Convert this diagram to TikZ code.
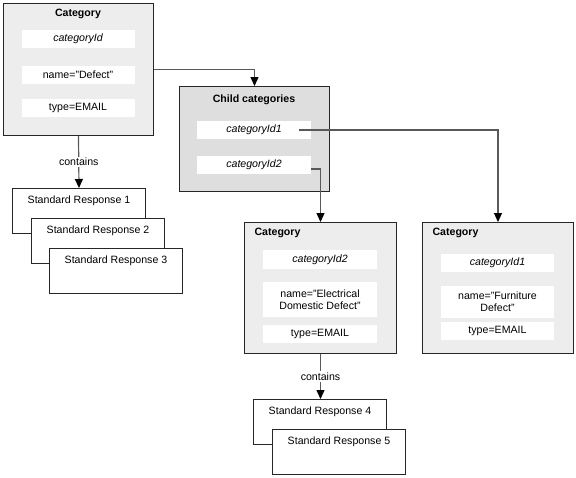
\documentclass[tikz,border=0pt]{standalone}
\usepackage{fontspec}
\setmainfont{Liberation Sans}
\usetikzlibrary{arrows.meta, positioning, calc}

\newcommand{\dfont}{\fontsize{10.6}{12.2}\selectfont}

\begin{document}
\begin{tikzpicture}[
			x=1pt, y=-1pt,
			every node/.style={font=\dfont},
			catbox/.style={draw=black!85, line width=1pt, fill=black!7, anchor=north west, inner sep=0pt},
			childbox/.style={catbox, fill=black!13},
			title/.style={font=\dfont\bfseries},
			field/.style={fill=white, minimum width=113pt, minimum height=18pt, inner sep=1pt, align=center},
			idfield/.style={field, font=\dfont\itshape},
			resp/.style={draw=black!85, line width=1pt, fill=white, anchor=north west, minimum width=133pt,
				inner ysep=4pt, text height=11pt, text depth=26pt},
			link/.style={draw=black!65, line width=1.2pt, -{Triangle[length=9pt,width=8pt,color=black]}}]
		\useasboundingbox (0,0) rectangle (576,477);

		% top category
		\node[catbox, minimum width=150pt, minimum height=132pt] (cat1) at (3,3) {};
		\node[title]   (cat1t)    at (78,14)  {Category};
		\node[idfield] (cat1id)   at (78,39)  {categoryId};
		\node[field]   (cat1name) at (78,75)  {name="Defect"};
		\node[field]   (cat1type) at (78,108) {type=EMAIL};

		% child categories
		\node[childbox, minimum width=150pt, minimum height=105pt] (child) at (179,86) {};
		\node[title]   (childt) at (254,100) {Child categories};
		\node[idfield, minimum width=114pt] (cid1) at (254,130) {categoryId1};
		\node[idfield, minimum width=114pt] (cid2) at (254,165) {categoryId2};

		% sub categories
		\node[catbox, minimum width=152pt, minimum height=131pt] (cat2) at (244,222) {};
		\node[title, anchor=west] (cat2t) at (251,233) {Category};
		\node[idfield, minimum width=114pt, minimum height=19pt] (cat2id) at (320,259.5) {categoryId2};
		\node[field, minimum width=114pt, minimum height=35pt]   (cat2name) at (320,299.5) {name="Electrical\\Domestic Defect"};
		\node[field, minimum width=114pt] (cat2type) at (320,334) {type=EMAIL};

		\node[catbox, minimum width=151pt, minimum height=131pt] (cat3) at (422,222) {};
		\node[title, anchor=west] (cat3t) at (429,233) {Category};
		\node[idfield] (cat3id)   at (497.5,263) {categoryId1};
		\node[field, minimum height=32pt] (cat3name) at (497.5,302) {name="Furniture\\Defect"};
		\node[field]   (cat3type) at (497.5,331) {type=EMAIL};

		% standard responses
		\node[resp] (resp1) at (12,188) {Standard Response 1};
		\node[resp] (resp2) at (31,218) {Standard Response 2};
		\node[resp] (resp3) at (49,248) {Standard Response 3};
		\node[resp] (resp4) at (253,399) {Standard Response 4};
		\node[resp] (resp5) at (272,429) {Standard Response 5};

		\draw[link] (cat1.east) -| (child.north);
		\draw[link] ([xshift=-12pt]cid1.east) -| (cat3.north);
		\draw[link] ([yshift=-4pt]cid2.east) -| (cat2.north);
		\draw[link] (cat1.south) -- node[fill=white, inner sep=1.5pt] {contains} (resp1.north);
		\draw[link] (cat2.south) -- node[fill=white, inner sep=1.5pt] {contains} ([xshift=0.5pt]resp4.north);
	\end{tikzpicture}
\end{document}
